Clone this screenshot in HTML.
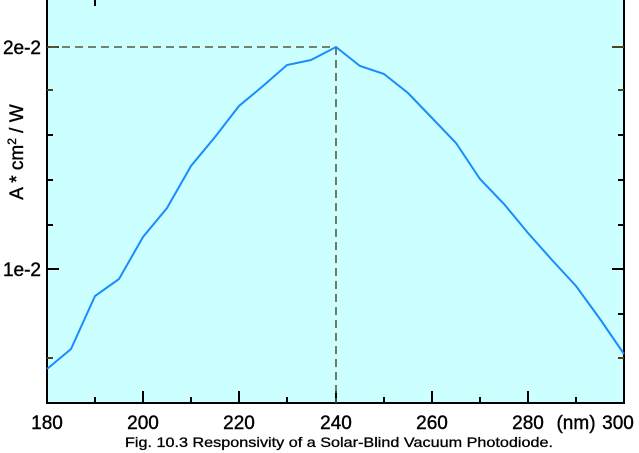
<!DOCTYPE html>
<html><head><style>html,body{margin:0;padding:0;background:#fff;}svg{display:block}</style></head>
<body>
<svg width="639" height="453" xmlns="http://www.w3.org/2000/svg" font-family="Liberation Sans, Arial, sans-serif">
<rect x="47" y="0" width="577" height="403" fill="#ccffff"/>
<g stroke="#000" stroke-width="2">
<line x1="47" y1="403" x2="47" y2="0"/>
<line x1="624" y1="403" x2="624" y2="0"/>
<line x1="46" y1="403" x2="625" y2="403"/>
</g>
<g stroke="#000" stroke-width="2">
<line x1="95" y1="403" x2="95" y2="397"/><line x1="143" y1="403" x2="143" y2="391"/>
<line x1="191" y1="403" x2="191" y2="397"/><line x1="239" y1="403" x2="239" y2="391"/>
<line x1="287" y1="403" x2="287" y2="397"/><line x1="336" y1="403" x2="336" y2="391"/>
<line x1="384" y1="403" x2="384" y2="397"/><line x1="432" y1="403" x2="432" y2="391"/>
<line x1="480" y1="403" x2="480" y2="397"/><line x1="528" y1="403" x2="528" y2="391"/>
<line x1="576" y1="403" x2="576" y2="397"/>
<line x1="95" y1="0" x2="95" y2="6"/>
<line x1="47" y1="269" x2="59" y2="269"/><line x1="612" y1="269" x2="624" y2="269"/>
<line x1="47" y1="225" x2="53" y2="225"/><line x1="618" y1="225" x2="624" y2="225"/>
<line x1="47" y1="180" x2="53" y2="180"/><line x1="618" y1="180" x2="624" y2="180"/>
<line x1="47" y1="135" x2="53" y2="135"/><line x1="618" y1="135" x2="624" y2="135"/>
<line x1="618" y1="314" x2="624" y2="314"/>
</g>
<g stroke="#4a4520" stroke-width="2">
<line x1="47" y1="47" x2="59" y2="47"/><line x1="612" y1="47" x2="624" y2="47"/>
<line x1="47" y1="90" x2="53" y2="90"/><line x1="618" y1="90" x2="624" y2="90"/>
<line x1="47" y1="358" x2="53" y2="358"/><line x1="618" y1="358" x2="624" y2="358"/>
</g>
<g stroke="#5a5a3a" stroke-width="1.6" stroke-dasharray="8,5" fill="none">
<line x1="49" y1="47" x2="336" y2="47"/><line x1="336" y1="47" x2="336" y2="403"/>
</g>
<polyline fill="none" stroke="#1a8cff" stroke-width="2" points="47,369 71,349 95,296 119,279 143,237 167,208 191,166 215,137 239,106 263,86 287,65 311,60 336,47 360,66 384,74 408,93 432,118 456,143 480,179 504,204 528,233 552,260 576,286 600,319 624,354"/>
<g font-size="19" fill="#000" stroke="#000" stroke-width="0.4" text-anchor="middle">
<text x="47" y="429">180</text><text x="143" y="429">200</text><text x="239" y="429">220</text>
<text x="336" y="429">240</text><text x="432" y="429">260</text><text x="528" y="429">280</text>
<text x="618" y="429">300</text><text x="576" y="429">(nm)</text>
</g>
<g font-size="19" fill="#000" stroke="#000" stroke-width="0.4" text-anchor="end">
<text x="41" y="54">2e-2</text><text x="41" y="276">1e-2</text>
</g>
<text transform="translate(23,152) rotate(-90)" font-size="19" stroke="#000" stroke-width="0.4" text-anchor="middle">A * cm<tspan font-size="12" dy="-7">2</tspan><tspan dy="7"> / W</tspan></text>
<text x="125" y="447" font-size="14" stroke="#000" stroke-width="0.3" textLength="428" lengthAdjust="spacingAndGlyphs">Fig. 10.3  Responsivity of a Solar-Blind Vacuum Photodiode.</text>
</svg>
</body></html>
